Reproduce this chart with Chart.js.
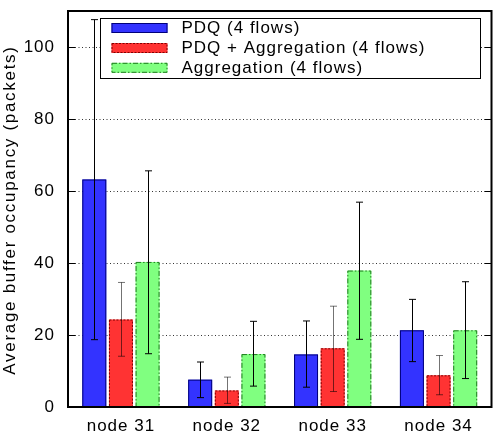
<!DOCTYPE html>
<html>
<head>
<meta charset="utf-8">
<script src="https://cdn.jsdelivr.net/npm/chart.js@4/dist/chart.umd.min.js"></script>
<style>
  body { margin: 0; background: #fff; }
</style>
</head>
<body>
<canvas id="chart" width="496" height="438"></canvas>
<script>
// values
const categories = ['node 31', 'node 32', 'node 33', 'node 34'];
const seriesNames = ['PDQ (4 flows)', 'PDQ + Aggregation (4 flows)', 'Aggregation (4 flows)'];

const pdq = [63.2, 7.6, 14.6, 21.3];
const pdqLow = [18.7, 2.6, 5.5, 12.6];
const pdqHigh = [107.6, 12.5, 23.9, 29.9];

const pdqAgg = [24.3, 4.6, 16.3, 8.8];
const pdqAggLow = [14.1, 1.0, 4.3, 3.4];
const pdqAggHigh = [34.6, 8.3, 28.0, 14.3];

const agg = [40.3, 14.7, 37.9, 21.3];
const aggLow = [14.8, 5.8, 18.8, 7.9];
const aggHigh = [65.6, 23.8, 56.9, 34.8];

const yTicks = [0, 20, 40, 60, 80, 100];
const yTitle = 'Average buffer occupancy (packets)';

const FONT = '"Liberation Sans", Arial, sans-serif';
const SIZE = 17;
const SPACING = '1px';

const styles = [
    { fill: 'rgb(51,51,255)', line: '#00007a', dash: [], err: '#000' },
    { fill: 'rgb(255,51,51)', line: '#800000', dash: [2, 1.5], err: 'rgba(0,0,0,0.55)' },
    { fill: 'rgb(128,255,128)', line: '#1f7a1f', dash: [5, 2, 1.5, 2], err: '#000' }
];
const lows = [pdqLow, pdqAggLow, aggLow];
const highs = [pdqHigh, pdqAggHigh, aggHigh];

// the text in the figure is spread out a bit wider than plain Helvetica
const spacingPlugin = {
    id: 'spacing',
    beforeLayout(chart) { chart.ctx.letterSpacing = SPACING; },
    beforeDraw(chart) { chart.ctx.letterSpacing = SPACING; }
};

// dotted grid under the bars, plus the rotated axis title
const gridPlugin = {
    id: 'dottedGrid',
    beforeDatasetsDraw(chart) {
        const { ctx, chartArea, scales: { y } } = chart;
        ctx.save();
        ctx.strokeStyle = '#333';
        ctx.lineWidth = 1;
        ctx.setLineDash([1, 2.5]);
        yTicks.forEach(v => {
            if (v === 0) return;
            const py = Math.round(y.getPixelForValue(v)) + 0.5;
            ctx.beginPath();
            ctx.moveTo(chartArea.left, py);
            ctx.lineTo(chartArea.right, py);
            ctx.stroke();
        });
        ctx.restore();

        ctx.save();
        ctx.letterSpacing = '1.7px';
        ctx.font = SIZE + 'px ' + FONT;
        ctx.fillStyle = '#000';
        ctx.textAlign = 'center';
        ctx.textBaseline = 'alphabetic';
        ctx.translate(15, 210);
        ctx.rotate(-Math.PI / 2);
        ctx.fillText(yTitle, 0, 0);
        ctx.restore();
    }
};

// dashed outlines + error bars
const barExtras = {
    id: 'barExtras',
    afterDatasetsDraw(chart) {
        const { ctx, scales: { y } } = chart;
        ctx.save();
        chart.data.datasets.forEach((ds, i) => {
            const st = styles[i];
            chart.getDatasetMeta(i).data.forEach((bar, j) => {
                const half = bar.width / 2;
                ctx.strokeStyle = st.line;
                ctx.lineWidth = 1;
                ctx.setLineDash(st.dash);
                ctx.strokeRect(bar.x - half + 0.5, bar.y + 0.5, bar.width - 1, bar.base - bar.y - 1);

                const yl = y.getPixelForValue(lows[i][j]);
                const yh = y.getPixelForValue(highs[i][j]);
                const x = Math.round(bar.x) + 0.5;
                ctx.setLineDash([]);
                ctx.strokeStyle = st.err;
                ctx.beginPath();
                ctx.moveTo(x, yl);
                ctx.lineTo(x, yh);
                ctx.moveTo(x - 3.5, yl);
                ctx.lineTo(x + 3.5, yl);
                ctx.moveTo(x - 3.5, yh);
                ctx.lineTo(x + 3.5, yh);
                ctx.stroke();
            });
        });
        ctx.restore();
    }
};

// frame, inner tick marks and the boxed legend
const frameAndLegend = {
    id: 'frameAndLegend',
    afterDraw(chart) {
        const { ctx, chartArea: a, scales: { y } } = chart;
        ctx.save();
        ctx.strokeStyle = '#000';
        ctx.lineWidth = 1;
        yTicks.forEach(v => {
            const py = Math.round(y.getPixelForValue(v)) + 0.5;
            ctx.beginPath();
            ctx.moveTo(a.left, py);
            ctx.lineTo(a.left + 7, py);
            ctx.moveTo(a.right, py);
            ctx.lineTo(a.right - 7, py);
            ctx.stroke();
        });
        ctx.lineWidth = 2;
        ctx.strokeRect(a.left, a.top, a.right - a.left, a.bottom - a.top);

        // legend box
        const bx = 100.5, by = 18.5, bw = 380, bh = 60;
        ctx.lineWidth = 1;
        ctx.fillStyle = '#fff';
        ctx.fillRect(bx, by, bw, bh);
        ctx.strokeStyle = '#000';
        ctx.strokeRect(bx, by, bw, bh);
        const rows = [28, 48, 67.8];
        ctx.font = SIZE + 'px ' + FONT;
        ctx.textBaseline = 'middle';
        ctx.textAlign = 'left';
        seriesNames.forEach((name, i) => {
            const st = styles[i];
            ctx.fillStyle = st.fill;
            ctx.fillRect(111.5, rows[i] - 5, 56, 10);
            ctx.strokeStyle = st.line;
            ctx.setLineDash(st.dash);
            ctx.strokeRect(112, rows[i] - 4.5, 55, 9);
            ctx.setLineDash([]);
            ctx.fillStyle = '#000';
            ctx.fillText(name, 181.5, rows[i] + 0.5);
        });
        ctx.restore();
    }
};

new Chart(document.getElementById('chart'), {
    type: 'bar',
    data: {
        labels: categories,
        datasets: [
            { label: seriesNames[0], data: pdq, backgroundColor: styles[0].fill, borderWidth: 0 },
            { label: seriesNames[1], data: pdqAgg, backgroundColor: styles[1].fill, borderWidth: 0 },
            { label: seriesNames[2], data: agg, backgroundColor: styles[2].fill, borderWidth: 0 }
        ]
    },
    options: {
        responsive: false,
        animation: false,
        categoryPercentage: 0.755,
        barPercentage: 0.9,
        layout: { padding: { left: 0, right: 4.5, top: 11, bottom: 0 } },
        plugins: {
            legend: { display: false },
            tooltip: { enabled: false }
        },
        scales: {
            x: {
                grid: { display: false, drawTicks: false },
                border: { display: false },
                ticks: { color: '#000', font: { size: SIZE, family: FONT }, padding: 9, maxRotation: 0 },
                afterFit: s => { s.height = 31; s.paddingLeft = 0; s.paddingRight = 0; }
            },
            y: {
                min: 0,
                max: 110,
                grid: { display: false, drawTicks: false },
                border: { display: false },
                afterBuildTicks: s => { s.ticks = yTicks.map(v => ({ value: v })); },
                ticks: { color: '#000', font: { size: SIZE, family: FONT }, padding: 13 },
                afterFit: s => { s.width = 68; s.paddingTop = 0; s.paddingBottom = 0; }
            }
        }
    },
    plugins: [spacingPlugin, gridPlugin, barExtras, frameAndLegend]
});
</script>
</body>
</html>
